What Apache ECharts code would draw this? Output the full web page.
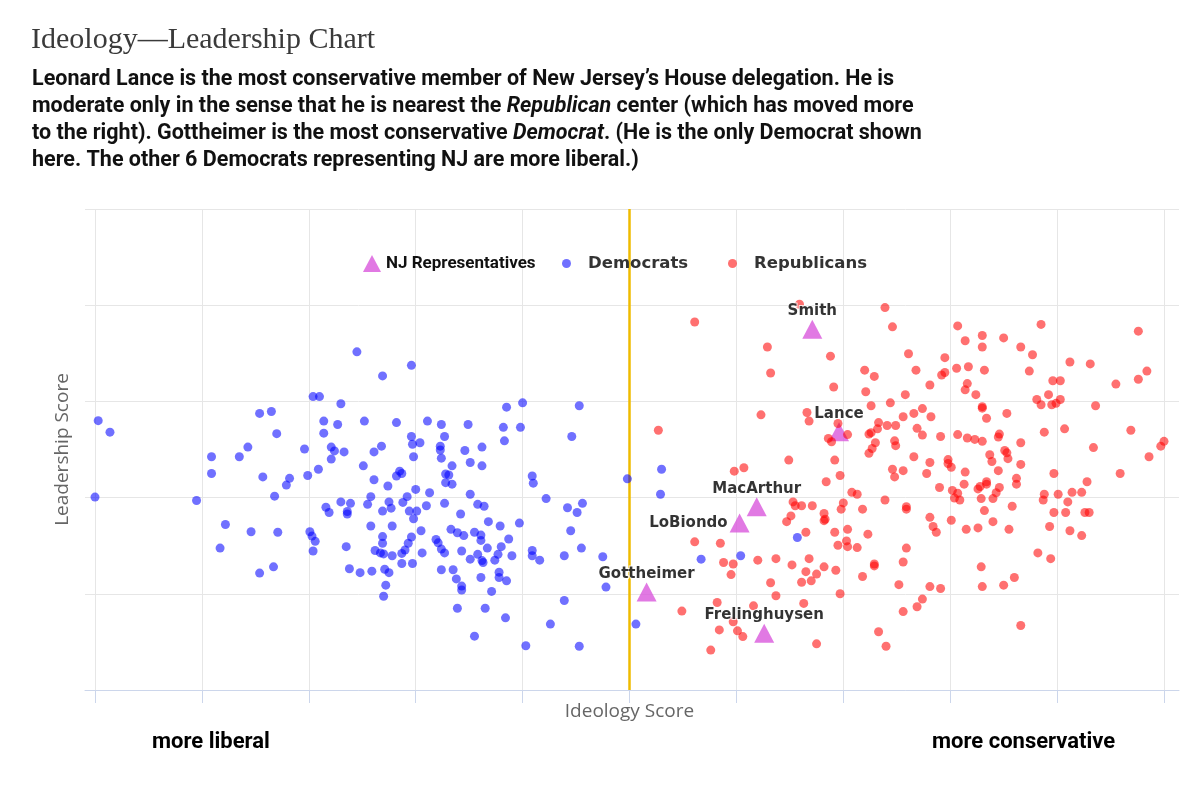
<!DOCTYPE html>
<html>
<head>
<meta charset="utf-8">
<script src="https://cdn.jsdelivr.net/npm/echarts@6/dist/echarts.min.js"></script>
<style>
  html, body { margin: 0; padding: 0; background: #fff; }
  #chart { width: 1200px; height: 790px; }
</style>
</head>
<body>
<div id="chart"></div>
<script>
// ideology (x, 0..1) and leadership (y, 0..1) scores
const demX = [
  0.003, 0.014, 0.000, 0.095, 0.109, 0.109, 0.122, 0.117, 0.135, 0.143, 0.154, 0.165, 0.170, 0.157, 0.168, 0.146, 0.171, 0.154, 0.167,
  0.245, 0.296, 0.269, 0.204, 0.210, 0.230, 0.214, 0.227, 0.252, 0.282, 0.311, 0.324, 0.349, 0.385, 0.400, 0.382, 0.398, 0.383,
  0.214, 0.196, 0.221, 0.224, 0.233, 0.221, 0.296, 0.297, 0.304, 0.268, 0.261, 0.298, 0.327, 0.323, 0.323, 0.324, 0.346, 0.362,
  0.351, 0.362, 0.334, 0.251, 0.209, 0.199, 0.182, 0.179, 0.261, 0.285, 0.282, 0.287, 0.274, 0.300, 0.313, 0.328, 0.331, 0.328,
  0.334, 0.351, 0.258, 0.292, 0.288, 0.275, 0.277, 0.269, 0.255, 0.230, 0.239, 0.216, 0.219, 0.236, 0.236, 0.294, 0.301, 0.298,
  0.310, 0.327, 0.342, 0.358, 0.364, 0.368, 0.379, 0.397, 0.258, 0.278, 0.305, 0.333, 0.339, 0.345, 0.355, 0.361, 0.361, 0.387,
  0.201, 0.203, 0.206, 0.204, 0.235, 0.269, 0.269, 0.296, 0.293, 0.262, 0.267, 0.270, 0.278, 0.287, 0.290, 0.287, 0.297, 0.306,
  0.319, 0.321, 0.324, 0.327, 0.343, 0.351, 0.358, 0.362, 0.363, 0.367, 0.374, 0.377, 0.380, 0.390, 0.238, 0.248, 0.259, 0.271,
  0.275, 0.272, 0.270, 0.324, 0.335, 0.338, 0.343, 0.343, 0.361, 0.378, 0.378, 0.385, 0.371, 0.339, 0.365, 0.384, 0.355, 0.403,
  0.409, 0.410, 0.409, 0.409, 0.416,
  0.453, 0.446, 0.498, 0.530, 0.529, 0.422, 0.442, 0.451, 0.456, 0.445, 0.455, 0.439, 0.475, 0.567, 0.604, 0.478, 0.439, 0.426,
  0.506, 0.453, 0.657
];
const demY = [
  0.560, 0.536, 0.401, 0.394, 0.485, 0.450, 0.344, 0.295, 0.485, 0.505, 0.575, 0.579, 0.533, 0.443, 0.403, 0.329, 0.328, 0.243, 0.256,
  0.703, 0.675, 0.653, 0.610, 0.610, 0.595, 0.559, 0.552, 0.559, 0.556, 0.559, 0.552, 0.552, 0.588, 0.597, 0.546, 0.546, 0.518,
  0.534, 0.501, 0.505, 0.497, 0.495, 0.480, 0.527, 0.511, 0.514, 0.507, 0.495, 0.485, 0.527, 0.507, 0.499, 0.482, 0.498, 0.505,
  0.473, 0.466, 0.466, 0.466, 0.459, 0.446, 0.440, 0.426, 0.437, 0.455, 0.445, 0.450, 0.424, 0.417, 0.410, 0.449, 0.447, 0.431,
  0.428, 0.407, 0.402, 0.402, 0.390, 0.391, 0.378, 0.372, 0.386, 0.391, 0.388, 0.380, 0.369, 0.371, 0.366, 0.372, 0.372, 0.356,
  0.383, 0.388, 0.366, 0.386, 0.382, 0.350, 0.341, 0.347, 0.341, 0.341, 0.331, 0.334, 0.327, 0.321, 0.328, 0.322, 0.311, 0.314,
  0.329, 0.320, 0.309, 0.289, 0.298, 0.319, 0.305, 0.318, 0.305, 0.290, 0.285, 0.283, 0.279, 0.284, 0.291, 0.263, 0.263, 0.285,
  0.313, 0.306, 0.293, 0.285, 0.289, 0.272, 0.282, 0.269, 0.265, 0.295, 0.270, 0.282, 0.298, 0.279, 0.252, 0.244, 0.247, 0.251,
  0.244, 0.218, 0.195, 0.250, 0.250, 0.231, 0.216, 0.208, 0.234, 0.245, 0.234, 0.227, 0.205, 0.170, 0.170, 0.150, 0.112, 0.092,
  0.445, 0.430, 0.290, 0.279, 0.270,
  0.591, 0.527, 0.439, 0.459, 0.407, 0.398, 0.379, 0.369, 0.388, 0.331, 0.295, 0.279, 0.277, 0.272, 0.279, 0.214, 0.186, 0.137,
  0.137, 0.091, 0.317
];
const repX = [
  0.659, 0.739, 0.561, 0.746, 0.629, 0.688, 0.632, 0.720, 0.729, 0.691, 0.721, 0.744, 0.726, 0.623, 0.666, 0.668, 0.527, 0.695,
  0.686, 0.689, 0.704, 0.724, 0.726, 0.733, 0.732, 0.741, 0.749, 0.730, 0.727, 0.724, 0.748, 0.749, 0.649, 0.692, 0.598, 0.607,
  0.697, 0.746, 0.748, 0.684, 0.708, 0.713, 0.739, 0.653, 0.655, 0.661, 0.671, 0.700, 0.698, 0.718, 0.651, 0.647, 0.682, 0.683,
  0.682, 0.665, 0.692, 0.704, 0.723, 0.561, 0.585, 0.695, 0.703, 0.704, 0.713, 0.588, 0.597, 0.620, 0.637, 0.652, 0.668, 0.682,
  0.693, 0.665, 0.675, 0.670, 0.661, 0.729, 0.729, 0.718, 0.752, 0.595, 0.632, 0.637, 0.697, 0.549, 0.582, 0.616, 0.663, 0.597,
  0.601, 0.606, 0.584, 0.576, 0.675, 0.733, 0.740,
  0.807, 0.885, 0.976, 0.814, 0.830, 0.830, 0.850, 0.866, 0.877, 0.761, 0.795, 0.768, 0.792, 0.795, 0.806, 0.817, 0.832, 0.874,
  0.912, 0.931, 0.984, 0.976, 0.955, 0.896, 0.903, 0.781, 0.816, 0.814, 0.824, 0.758, 0.881, 0.885, 0.892, 0.895, 0.899, 0.903,
  0.936, 0.830, 0.830, 0.774, 0.766, 0.756, 0.782, 0.834, 0.853, 0.769, 0.774, 0.791, 0.807, 0.816, 0.823, 0.830, 0.846, 0.845,
  0.888, 0.907, 0.969, 1.000, 0.997, 0.934, 0.866, 0.766, 0.781, 0.798, 0.798, 0.801, 0.837, 0.839, 0.851, 0.853, 0.854, 0.866,
  0.756, 0.778, 0.814, 0.845, 0.897, 0.959, 0.986, 0.790, 0.813, 0.802, 0.807, 0.804, 0.809, 0.826, 0.828, 0.834, 0.834, 0.846,
  0.843, 0.840, 0.862, 0.862, 0.829, 0.759, 0.759, 0.858, 0.887, 0.888, 0.901, 0.910, 0.914, 0.923, 0.928, 0.897, 0.908, 0.926,
  0.930, 0.893, 0.912, 0.923, 0.781, 0.784, 0.787, 0.801, 0.815, 0.826, 0.832, 0.840, 0.855, 0.759, 0.756, 0.781, 0.791, 0.774,
  0.769, 0.756, 0.829, 0.830, 0.850, 0.860, 0.882, 0.894, 0.866
];
const repY = [
  0.802, 0.795, 0.765, 0.755, 0.713, 0.694, 0.659, 0.665, 0.652, 0.630, 0.620, 0.597, 0.591, 0.572, 0.577, 0.559, 0.540, 0.554,
  0.523, 0.516, 0.531, 0.532, 0.535, 0.556, 0.543, 0.550, 0.550, 0.514, 0.502, 0.492, 0.518, 0.508, 0.478, 0.478, 0.455, 0.462,
  0.446, 0.459, 0.443, 0.433, 0.411, 0.407, 0.395, 0.391, 0.383, 0.383, 0.383, 0.389, 0.376, 0.376, 0.362, 0.350, 0.367, 0.355,
  0.352, 0.328, 0.328, 0.334, 0.324, 0.308, 0.305, 0.301, 0.310, 0.298, 0.296, 0.265, 0.262, 0.270, 0.273, 0.260, 0.273, 0.256,
  0.249, 0.246, 0.241, 0.227, 0.224, 0.262, 0.258, 0.236, 0.219, 0.240, 0.223, 0.196, 0.200, 0.164, 0.182, 0.175, 0.180, 0.142,
  0.123, 0.111, 0.125, 0.083, 0.096, 0.121, 0.091,
  0.757, 0.760, 0.746, 0.726, 0.737, 0.713, 0.732, 0.713, 0.697, 0.699, 0.691, 0.665, 0.655, 0.660, 0.669, 0.672, 0.665, 0.663,
  0.682, 0.678, 0.663, 0.646, 0.636, 0.643, 0.643, 0.634, 0.637, 0.624, 0.614, 0.614, 0.604, 0.593, 0.614, 0.593, 0.596, 0.604,
  0.591, 0.589, 0.586, 0.585, 0.575, 0.568, 0.568, 0.565, 0.575, 0.544, 0.530, 0.527, 0.531, 0.524, 0.521, 0.517, 0.532, 0.526,
  0.536, 0.543, 0.540, 0.517, 0.507, 0.504, 0.514, 0.485, 0.473, 0.479, 0.471, 0.463, 0.489, 0.475, 0.498, 0.493, 0.481, 0.469,
  0.456, 0.450, 0.453, 0.456, 0.450, 0.450, 0.485, 0.421, 0.428, 0.415, 0.409, 0.399, 0.395, 0.418, 0.423, 0.428, 0.433, 0.421,
  0.410, 0.398, 0.440, 0.428, 0.398, 0.381, 0.376, 0.382, 0.395, 0.407, 0.407, 0.391, 0.411, 0.411, 0.433, 0.369, 0.369, 0.369,
  0.369, 0.340, 0.331, 0.321, 0.359, 0.340, 0.328, 0.353, 0.334, 0.337, 0.373, 0.350, 0.334, 0.295, 0.266, 0.215, 0.211, 0.189,
  0.173, 0.163, 0.256, 0.215, 0.218, 0.234, 0.285, 0.273, 0.134
];
const njNames = ['Smith', 'Lance', 'MacArthur', 'LoBiondo', 'Gottheimer', 'Frelinghuysen'];
const njX = [0.671, 0.696, 0.619, 0.603, 0.516, 0.626];
const njY = [0.750, 0.537, 0.381, 0.347, 0.204, 0.118];
const centerLine = 0.5;

const titleText = 'Ideology\u2014Leadership Chart';
const subtitleLines = [
  'Leonard Lance is the most conservative member of New Jersey\u2019s House delegation. He is',
  'moderate only in the sense that he is nearest the {i|Republican} center (which has moved more',
  'to the right). Gottheimer is the most conservative {i|Democrat}. (He is the only Democrat shown',
  'here. The other 6 Democrats representing NJ are more liberal.)'
];

const boldFont = "'Roboto', sans-serif";
const labelFont = "'DejaVu Sans', sans-serif";
const axisFont = "'Open Sans', sans-serif";

const chart = echarts.init(document.getElementById('chart'));

const pairs = (xs, ys) => xs.map((x, i) => [x, ys[i]]);

const option = {
  animation: false,
  title: [
    {
      text: titleText, left: 31, top: 25, padding: 0,
      textStyle: { fontFamily: "'Liberation Serif', serif", fontSize: 30, fontWeight: 'normal', color: '#3a3a3a' }
    },
    {
      text: subtitleLines.join('\n'), left: 32, top: 66, padding: 0,
      textStyle: {
        fontFamily: boldFont, fontSize: 21.5, fontWeight: 'bold', color: '#111', lineHeight: 27,
        rich: { i: { fontFamily: boldFont, fontSize: 21.5, fontWeight: 'bold', fontStyle: 'italic', color: '#111', lineHeight: 27 } }
      }
    },
    {
      text: 'more liberal', left: 152, top: 731, padding: 0,
      textStyle: { fontFamily: boldFont, fontSize: 22, fontWeight: 'bold', color: '#000' }
    },
    {
      text: 'more conservative', left: 932, top: 731, padding: 0,
      textStyle: { fontFamily: boldFont, fontSize: 22, fontWeight: 'bold', color: '#000' }
    }
  ],
  legend: [
    {
      left: 358, top: 250, itemWidth: 18, itemHeight: 17, selectedMode: false,
      data: [{ name: 'NJ Representatives', icon: 'triangle' }],
      textStyle: { fontFamily: boldFont, fontSize: 17, fontWeight: 'bold', color: '#111' }
    },
    {
      left: 557, top: 250, itemWidth: 33, itemHeight: 9, selectedMode: false,
      data: [{ name: 'Democrats', icon: 'circle' }],
      textStyle: { fontFamily: labelFont, fontSize: 16.5, fontWeight: 'bold', color: '#333' }
    },
    {
      left: 723, top: 250, itemWidth: 33, itemHeight: 9, selectedMode: false,
      data: [{ name: 'Republicans', icon: 'circle' }],
      textStyle: { fontFamily: labelFont, fontSize: 16.5, fontWeight: 'bold', color: '#333' }
    }
  ],
  grid: [
    { left: 85, right: 21, top: 209, bottom: 100, outerBoundsMode: 'none' },
    { left: 95, right: 36, top: 209, bottom: 100, outerBoundsMode: 'none' }
  ],
  xAxis: [
    {
      gridIndex: 0, type: 'value', min: 0, max: 1,
      axisLine: { show: true, lineStyle: { color: '#ccd6eb', width: 1 } },
      axisTick: { show: false }, axisLabel: { show: false }, splitLine: { show: false }
    },
    {
      gridIndex: 1, type: 'value', min: 0, max: 1, interval: 0.1,
      axisLine: { show: false },
      axisTick: { show: true, length: 13, lineStyle: { color: '#ccd6eb' } },
      axisLabel: { show: false },
      splitLine: { show: true, lineStyle: { color: '#e6e6e6', width: 1 } },
      name: 'Ideology Score', nameLocation: 'middle', nameGap: 12,
      nameTextStyle: { fontFamily: axisFont, fontSize: 19, color: '#666' }
    }
  ],
  yAxis: [
    {
      gridIndex: 0, type: 'value', min: 0, max: 1, interval: 0.2,
      axisLine: { show: false }, axisTick: { show: false }, axisLabel: { show: false },
      splitLine: { show: true, lineStyle: { color: '#e6e6e6', width: 1 } }
    },
    {
      gridIndex: 1, type: 'value', min: 0, max: 1,
      axisLine: { show: false }, axisTick: { show: false }, axisLabel: { show: false },
      splitLine: { show: false },
      name: 'Leadership Score', nameLocation: 'middle', nameGap: 23, nameRotate: 90,
      nameTextStyle: { fontFamily: axisFont, fontSize: 19, color: '#666' }
    }
  ],
  series: [
    {
      name: 'NJ Representatives', type: 'scatter', xAxisIndex: 1, yAxisIndex: 1,
      symbol: 'triangle', symbolSize: [20, 19],
      itemStyle: { color: '#d957dc' },
      label: {
        show: true, position: 'top', distance: 1, formatter: '{b}',
        fontFamily: labelFont, fontSize: 15, fontWeight: 'bold', color: '#000',
        textBorderColor: '#fff', textBorderWidth: 2
      },
      emphasis: { disabled: true },
      data: njNames.map((n, i) => ({
        name: n, value: [njX[i], njY[i]],
        label: n === 'LoBiondo' ? { position: 'left', distance: 2 } : undefined
      })),
      markLine: {
        silent: true, z: 1, symbol: 'none', label: { show: false },
        lineStyle: { color: '#efbb00', width: 2.5, type: 'solid' },
        data: [{ xAxis: centerLine }]
      }
    },
    {
      name: 'Democrats', type: 'scatter', xAxisIndex: 1, yAxisIndex: 1,
      symbolSize: 9, itemStyle: { color: 'rgba(0,0,255,0.7)' },
      emphasis: { disabled: true },
      data: pairs(demX, demY)
    },
    {
      name: 'Republicans', type: 'scatter', xAxisIndex: 1, yAxisIndex: 1,
      symbolSize: 9, itemStyle: { color: 'rgba(255,0,0,0.7)' },
      emphasis: { disabled: true },
      data: pairs(repX, repY)
    }
  ]
};

chart.setOption(option);
</script>
</body>
</html>
